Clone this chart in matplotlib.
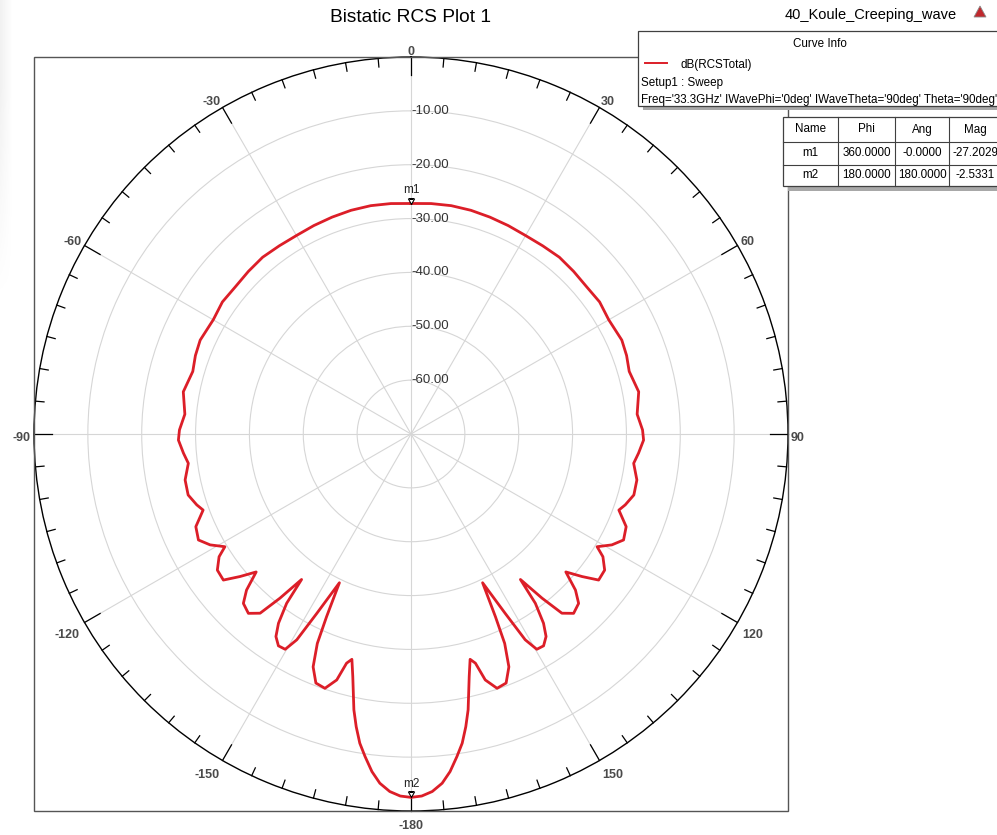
import numpy as np
import matplotlib.pyplot as plt
from matplotlib.patches import Rectangle, Polygon

plt.rcParams['font.family'] = ['Liberation Sans', 'DejaVu Sans']

# ---------------------------------------------------------------- DATA ----
# bistatic RCS; the pattern is symmetric so each side is
# listed from the front (0 deg) round to the back (+-180 deg)
ANG_RIGHT = [0, 5, 10, 15, 20, 25, 30, 35, 40, 45, 50, 55, 60, 66, 70, 74,
             79.5, 85, 89, 91.5, 94.8, 97.5, 101.5, 105.3, 108.3, 110.1,
             113.3, 116.5, 118.9, 121.2, 122.6, 125.1, 127.9, 129.8, 131.7,
             133.5, 135.3, 137.8, 139.9, 141.4, 143.05, 143.7, 145.0, 146.3,
             147.96, 149.7, 150.97, 152.3, 154.3, 155.2, 155.9, 157.2, 159.1,
             161.3, 163.2, 164.3, 165.3, 166.5, 167.45, 168.3, 169.4, 170.6,
             171.9, 173.4, 174.9, 176.6, 178.3, 180]
DB_RIGHT = [-27.20, -27.05, -26.95, -27.00, -27.15, -27.30, -27.45, -27.35,
            -27.15, -27.30, -27.45, -27.25, -27.60, -27.15, -27.40, -27.85,
            -27.00, -27.85, -27.00, -26.80, -27.60, -28.30, -27.20, -27.10,
            -28.10, -28.90, -26.50, -25.90, -27.40, -29.60, -27.70, -26.05,
            -25.85, -28.65, -31.50, -27.90, -25.75, -25.05, -26.50, -31.00,
            -36.20, -31.00, -27.10, -24.80, -23.60, -23.70, -26.30, -32.40,
            -39.35, -32.60, -27.40, -23.10, -20.50, -20.15, -22.30, -25.80,
            -26.75, -23.70, -20.70, -17.70, -14.70, -11.80, -9.50, -6.90,
            -4.90, -3.50, -2.75, -2.53]
ANG_LEFT = [-0, -5, -10, -15, -20, -25, -30, -35, -40, -45, -50, -55, -60,
            -66, -70, -74, -79.5, -85, -89, -91.5, -94.8, -97.5, -101.5,
            -105.3, -108.3, -110.1, -113.3, -116.5, -118.9, -121.2, -122.6,
            -125.1, -127.9, -129.8, -131.7, -133.5, -135.3, -137.8, -139.9,
            -141.4, -143.05, -143.7, -145.0, -146.3, -147.96, -149.7, -150.97,
            -152.3, -154.3, -155.2, -155.9, -157.2, -159.1, -161.3, -163.2,
            -164.3, -165.3, -166.5, -167.45, -168.3, -169.4, -170.6, -171.9,
            -173.4, -174.9, -176.6, -178.3, -180]
DB_LEFT = [-27.20, -27.05, -26.95, -27.00, -27.15, -27.30, -27.45, -27.35,
           -27.15, -27.30, -27.45, -27.25, -27.60, -27.15, -27.40, -27.85,
           -27.00, -27.85, -27.00, -26.80, -27.60, -28.30, -27.20, -27.10,
           -28.10, -28.90, -26.50, -25.90, -27.40, -29.60, -27.70, -26.05,
           -25.85, -28.65, -31.50, -27.90, -25.75, -25.05, -26.50, -31.00,
           -36.20, -31.00, -27.10, -24.80, -23.60, -23.70, -26.30, -32.40,
           -39.35, -32.60, -27.40, -23.10, -20.50, -20.15, -22.30, -25.80,
           -26.75, -23.70, -20.70, -17.70, -14.70, -11.80, -9.50, -6.90,
           -4.90, -3.50, -2.75, -2.53]

MARKER_NAMES = ['m1', 'm2']
MARKER_PHI = [360.0, 180.0]
MARKER_ANG = [-0.0, 180.0]
MARKER_MAG = [-27.2029, -2.5331]

R_TICKS = [-60, -50, -40, -30, -20, -10]
THETA_TICKS = [0, 30, 60, 90, 120, 150, 180, 210, 240, 270, 300, 330]
THETA_LABELS = ['0', '30', '60', '90', '120', '150', '-180', '-150', '-120',
                '-90', '-60', '-30']

RED = '#dc1e28'
W, H = 997, 835

fig = plt.figure(figsize=(W / 100, H / 100), dpi=100)

# polar plot, centre (411, 434) px, radius 377 px
cx, cy, rad = 411, 434, 377
ax = fig.add_axes([(cx - rad) / W, (H - cy - rad) / H, 2 * rad / W, 2 * rad / H],
                  projection='polar')
ax.set_theta_zero_location('N')
ax.set_theta_direction(-1)
ax.set_ylim(-70, 0)

theta = np.deg2rad(np.concatenate([ANG_RIGHT, ANG_LEFT[::-1]]))
mag = np.concatenate([DB_RIGHT, DB_LEFT[::-1]])
ax.plot(theta, mag, color=RED, lw=2.0, zorder=4, solid_joinstyle='round')

# grid
ax.set_yticks(R_TICKS)
ax.set_yticklabels([])
ax.set_xticks(np.deg2rad(THETA_TICKS))
ax.set_xticklabels([])
ax.grid(True, color='#d6d6d6', lw=0.8)
ax.tick_params(axis='both', length=0)
ax.spines['polar'].set_color('black')
ax.spines['polar'].set_linewidth(1.0)

# inward ticks on the rim: long every 30 deg, short every 5 deg
for t in range(0, 360, 5):
    tl = 3.35 if t % 30 == 0 else 1.6
    ax.plot([np.deg2rad(t)] * 2, [-tl, 0], color='black', lw=0.9,
            clip_on=False, zorder=3)

# angle labels just outside the rim
for t, lab in zip(THETA_TICKS, THETA_LABELS):
    s, c = np.sin(np.deg2rad(t)), np.cos(np.deg2rad(t))
    gap = 2.2 if c > -0.01 else 4.0
    ha = 'left' if s > 0.01 else ('right' if s < -0.01 else 'center')
    va = 'bottom' if c > 0.01 else ('top' if c < -0.01 else 'center')
    ax.annotate(lab, (np.deg2rad(t), 0), xytext=(gap * s, gap * c - 2.6),
                textcoords='offset points', ha=ha, va=va, fontsize=9,
                fontweight='bold', color='#4a4a4a', annotation_clip=False)

for r in R_TICKS:
    ax.text(0.0, r, '%.2f' % r, ha='left', va='center', fontsize=9.5,
            color='#333333', zorder=5)

# markers
for name, phi, mg in zip(MARKER_NAMES, MARKER_PHI, MARKER_MAG):
    ax.plot(np.deg2rad(phi), mg, marker=[(0, 0), (-0.55, 1), (0.55, 1), (0, 0)],
            ms=8, mfc='white', mec='black', mew=0.8, zorder=6)
    ax.annotate(name, (np.deg2rad(phi), mg), xytext=(0, 5.5),
                textcoords='offset points', ha='center', va='bottom',
                fontsize=8.5, color='#222222', zorder=6)

# overlay in pixel coordinates for frame, title and info boxes
ov = fig.add_axes([0, 0, 1, 1], zorder=5)
ov.set_xlim(0, W)
ov.set_ylim(H, 0)
ov.axis('off')
ov.patch.set_alpha(0)

# faint shading on the far left edge, fading out downwards
fade_x = np.linspace(1.0, 0.0, 12)[None, :]
fade_y = np.clip(np.linspace(1.4, -0.2, 60), 0, 1)[:, None]
shade = np.zeros((60, 12, 4))
shade[..., :3] = 0.55
shade[..., 3] = 0.12 * fade_x * fade_y
ov.imshow(shade, extent=(0, 12, 340, 0), aspect='auto', zorder=0)
ov.set_xlim(0, W)
ov.set_ylim(H, 0)

ov.add_patch(Rectangle((34, 57), 754, 754, fill=False, ec='#555555', lw=1.0))
ov.text(410, 17, 'Bistatic RCS Plot 1', ha='center', va='center', fontsize=13.8)
ov.text(871, 15, '40_Koule_Creeping_wave', ha='center', va='center',
        fontsize=10.5)
ov.add_patch(Polygon([(974, 17), (980, 6), (986, 17)], closed=True,
                     fc='#c0282d', ec='#8a8a8a', lw=0.6))

# curve info box
ov.add_patch(Rectangle((643, 35), 360, 75, fc='#a8a8a8', ec='none'))
ov.add_patch(Rectangle((638, 31), 365, 75, fc='white', ec='#404040', lw=0.9))
ov.text(820, 44, 'Curve Info', ha='center', va='center', fontsize=8.4)
ov.plot([645, 667], [63, 63], color=RED, lw=1.4)
ov.text(680, 65, 'dB(RCSTotal)', ha='left', va='center', fontsize=8.4)
ov.text(641, 83, 'Setup1 : Sweep', ha='left', va='center', fontsize=8.4)
ov.text(641, 100, "Freq='33.3GHz' IWavePhi='0deg' IWaveTheta='90deg' Theta='90deg'",
        ha='left', va='center', fontsize=8.4)

# marker table
col_x = [783, 838, 895, 949, 1010]
row_y = [117, 142, 165, 186]
ov.add_patch(Rectangle((788, 121), 220, 70, fc='#a8a8a8', ec='none'))
ov.add_patch(Rectangle((783, 117), 225, 69, fc='white', ec='#404040', lw=0.9))
for x in col_x[1:-1]:
    ov.plot([x, x], [row_y[0], row_y[-1]], color='#404040', lw=0.8)
for y in row_y[1:-1]:
    ov.plot([col_x[0], col_x[-1]], [y, y], color='#404040', lw=0.8)
rows = [['Name', 'Phi', 'Ang', 'Mag']]
for name, phi, ang, mg in zip(MARKER_NAMES, MARKER_PHI, MARKER_ANG, MARKER_MAG):
    rows.append([name, '%.4f' % phi, '%.4f' % ang, '%.4f' % mg])
for i, row in enumerate(rows):
    yc = (row_y[i] + row_y[i + 1]) / 2
    for j, cell in enumerate(row):
        xc = (col_x[j] + col_x[j + 1]) / 2 if j < 3 else 975
        ov.text(xc, yc, cell, ha='center', va='center', fontsize=8.4)

fig.savefig('out.png', dpi=100)
